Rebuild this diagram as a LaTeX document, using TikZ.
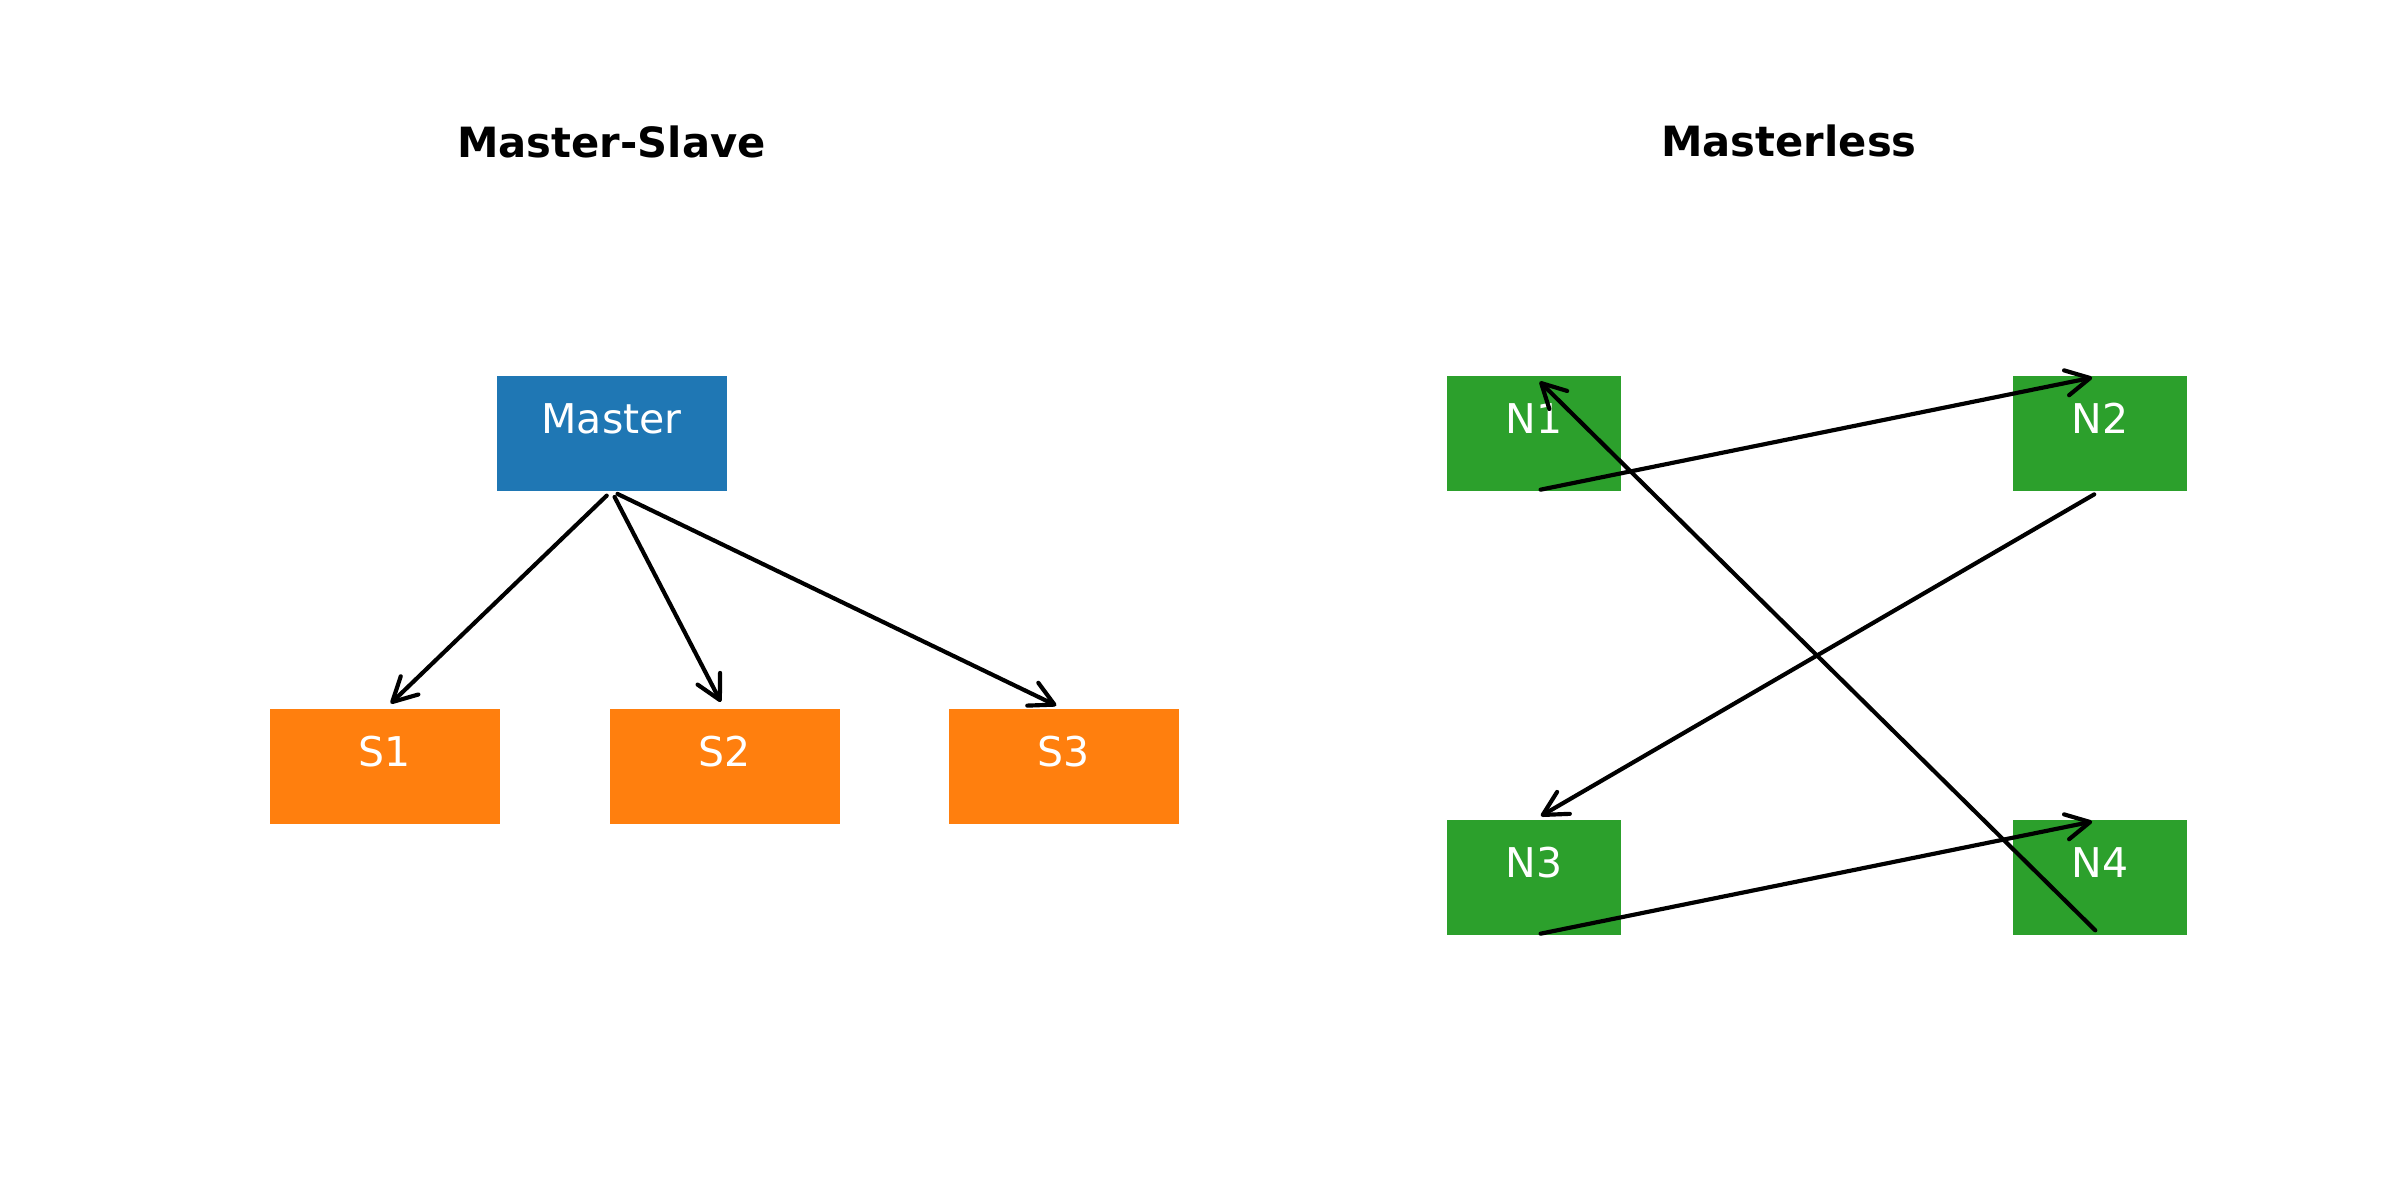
\documentclass[tikz,border=0pt]{standalone}
\usepackage{fontspec}
\setmainfont{DejaVu Sans}
\usetikzlibrary{arrows.meta}

\definecolor{mblue}{HTML}{1F77B4}
\definecolor{morange}{HTML}{FF7F0E}
\definecolor{mgreen}{HTML}{2CA02C}

\tikzset{
  box/.style={rectangle, draw=none, inner sep=0pt, outer sep=0pt},
  wide/.style={box, minimum width=69pt, minimum height=34.5pt},
  narrow/.style={box, minimum width=52.2pt, minimum height=34.5pt},
  masterbox/.style={wide, fill=mblue},
  slavebox/.style={wide, fill=morange},
  peerbox/.style={narrow, fill=mgreen},
  boxtext/.style={anchor=base, inner sep=0pt, text=white, font=\fontsize{12.3}{14}\selectfont},
  heading/.style={anchor=base, inner sep=0pt, font=\bfseries\fontsize{12.5}{15}\selectfont},
  link/.style={line width=1.25pt, line cap=round, line join=round,
    -{Straight Barb[length=7.2pt, width=7.6pt, line cap=round, line join=round]},
    shorten <=2pt, shorten >=2.4pt},
}

\begin{document}
\begin{tikzpicture}[x=0.3pt, y=-0.3pt]
  \useasboundingbox (0,0) rectangle (2400,1200);
  \fill[white] (0,0) rectangle (2400,1200);

  % Left panel: one master feeding three slaves
  \node[heading] (t-left) at (611.5,157) {Master-Slave};
  \node[masterbox] (master) at (611.5,433.5) {};
  \node[slavebox] (s1) at (385,766.5) {};
  \node[slavebox] (s2) at (724.5,766.5) {};
  \node[slavebox] (s3) at (1063.5,766.5) {};
  \node[boxtext] (master-t) at (master.center) {Master};
  \node[boxtext] (s1-t) at (s1.center) {S1};
  \node[boxtext] (s2-t) at (s2.center) {S2};
  \node[boxtext] (s3-t) at (s3.center) {S3};

  \draw[link] (master.south) -- (s1.north);
  \draw[link] (master.south) -- (s2.north);
  \draw[link] (master.south) -- (s3.north);

  % Right panel: four equal peers in a ring
  \node[heading] (t-right) at (1789,156) {Masterless};
  \node[peerbox] (n1) at (1534,433.5) {};
  \node[peerbox] (n2) at (2100,433.5) {};
  \node[peerbox] (n3) at (1534,877.5) {};
  \node[peerbox] (n4) at (2100,877.5) {};
  \node[boxtext] (n1-t) at (n1.center) {N1};
  \node[boxtext] (n2-t) at (n2.center) {N2};
  \node[boxtext] (n3-t) at (n3.center) {N3};
  \node[boxtext] (n4-t) at (n4.center) {N4};

  \draw[link] (n1.south) -- (n2.north);
  \draw[link] (n2.south) -- (n3.north);
  \draw[link] (n3.south) -- (n4.north);
  \draw[link] (n4.south) -- (n1.north);
\end{tikzpicture}
\end{document}
